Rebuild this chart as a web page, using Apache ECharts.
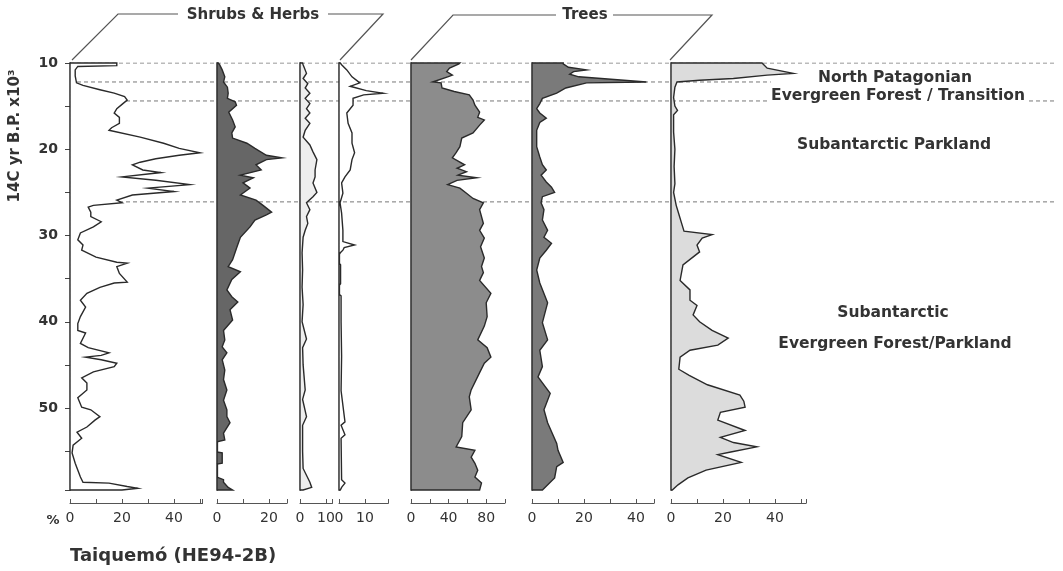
<!DOCTYPE html>
<html><head><meta charset="utf-8">
<script src="https://cdn.jsdelivr.net/npm/echarts@6/dist/echarts.min.js"></script>
<style>html,body{margin:0;padding:0;background:#fff}#c{width:1063px;height:571px}</style>
</head><body><div id="c"></div>
<script>
// ---- data: [age (14C yr B.P. x10^3), percent] ----
const ageMin = 10, ageMax = 59.5;
const yTickLabels = [10, 20, 30, 40, 50];
const zoneBounds = [10, 12.2, 14.4, 26.1];
const groupNames = ['Shrubs & Herbs', 'Trees'];
const zoneNames = ['North Patagonian', 'Evergreen Forest / Transition', 'Subantarctic Parkland', 'Subantarctic', 'Evergreen Forest/Parkland'];
const siteName = 'Taiquemó (HE94-2B)';
const yTitle = '14C yr B.P. x10³';

const shrub1 = [[10,18],[10.3,18],[10.4,3],[10.8,2],[11.5,2],[12.3,2.5],[12.6,5],[13.1,11.5],[13.5,17],[13.9,21],[14.3,22],[14.8,20],[15.3,18],[15.8,17],[16.3,19],[17,19],[17.5,16],[17.8,15],[18.6,27],[19.3,36],[19.9,42],[20.4,50],[20.7,42],[21.1,33],[21.5,27],[21.8,24],[22.4,28],[22.7,35],[23.2,20],[23.6,33],[24.1,46],[24.5,30],[24.9,40],[25.3,24],[25.9,18],[26.2,20],[26.5,9],[26.7,7],[27.3,8],[27.8,8],[28.4,12],[29,9],[29.7,4],[30.5,3],[31.1,5],[31.7,4.5],[32.5,10],[33.1,18],[33.2,22],[33.6,18],[34.4,19],[35.4,22],[35.5,17],[36,11.5],[36.7,6.5],[37.5,4],[38.3,6],[39.4,4],[40.2,3],[41,3],[41.3,6],[42.5,4],[43,7],[43.6,15],[43.9,12],[44.1,6],[44.4,12],[44.8,18],[45.2,17],[45.8,9],[46.5,4.5],[47.1,6.5],[47.9,6.5],[48.8,3],[49.9,4.5],[50.2,8],[51,11.5],[51.4,9.6],[52.2,6.5],[52.8,2.7],[53.5,4.5],[54.3,1.2],[55.2,0.8],[56.4,2],[58,4],[58.6,5],[58.7,15],[59.1,22],[59.3,26],[59.5,20]];
const shrub2 = [[10,0.5],[10.2,1],[10.8,2],[11.6,3],[12.2,2.5],[12.8,4],[13.5,4.3],[14.1,4],[14.5,7],[14.9,7.5],[15.7,4.5],[16.6,6],[17.4,7],[18.1,5.7],[18.7,6],[19.3,11.5],[19.9,14.6],[20.7,19],[21,25],[21.2,19],[21.8,15],[22.4,17],[23,9],[23.3,14],[23.9,10],[24.5,12.7],[25.3,9],[25.9,15],[26.5,17.7],[27.3,21],[27.6,19],[28.2,14.6],[29,12.7],[30.2,9],[31.3,7.7],[32.8,6],[33.6,4.3],[34.2,9],[35.1,5.7],[36.3,3.8],[37.1,5.7],[37.7,8],[38.6,5],[39.8,6],[41,2.5],[42.1,3],[42.9,2],[43.6,3.8],[44.4,2],[45.6,3],[46.7,2.5],[47.9,3.8],[49.1,2.5],[50.2,3.8],[51,3.8],[51.7,5],[52.9,2.5],[53.7,3],[53.9,0],[55.1,0],[55.2,2],[56.4,2],[56.5,0],[58,0],[58.3,2.5],[58.6,2.5],[59.2,4.3],[59.5,6]];
const shrub3 = [[10,1],[10.2,1.2],[11.2,2.5],[11.8,1.2],[12.4,3],[12.9,2],[13.5,3.8],[14.1,2],[14.7,3.8],[15.3,2.5],[15.8,3.8],[16.4,2],[17,3.8],[17.8,2],[18.6,1.2],[19.5,3.8],[20.3,5],[21.2,6.5],[22.4,5.8],[23.2,5.8],[23.9,5],[25,6.5],[25.5,5],[26.2,2.5],[27,3.8],[27.8,2.5],[28.6,3],[29.4,2],[30.2,1.2],[32,0.8],[34,1],[36,0.8],[38,1.2],[40,0.8],[42,2.5],[43,1],[45,1.2],[47.9,2],[49,1],[51,2.5],[52,1],[55,1],[57,1.2],[58.6,3.8],[59.2,4.5],[59.5,1.2]];
const shrub4 = [[10,0.5],[10.2,1],[10.8,3],[11.6,5],[12.3,8],[12.7,4.3],[13.2,10.5],[13.5,17],[13.7,9.5],[14.1,5.4],[14.9,5.4],[15.8,3],[17,3.5],[18.1,5],[19.3,5],[20.4,6],[21.2,5],[22.4,4.3],[23.2,2.3],[23.9,1],[25.1,1.5],[26.2,0.4],[27.4,1],[29.4,1.5],[30.7,1.5],[31.1,6],[31.4,2],[31.7,1.5],[32,0.5],[32.2,0],[33.2,0],[33.4,0.6],[35.6,0.6],[35.8,0],[36.8,0],[37,0.8],[40,0.8],[44,1],[48,0.8],[51.6,2.3],[52,0.8],[53.1,2.3],[53.5,0.8],[58.3,1],[58.7,2.3],[59.2,1],[59.5,0.5]];
const tree1 = [[10,52],[10.1,51],[10.6,41],[11,38],[11.4,44],[11.6,39],[12.2,23],[12.3,32],[12.9,33],[13.3,46],[13.7,62],[14.3,66],[14.9,68],[15.7,73],[16.3,71],[16.6,78],[17.2,73],[18.1,66],[18.7,54],[19.7,52],[20.4,48],[21,44],[21.8,57],[22.2,49],[22.6,59],[23,50],[23.3,70],[23.6,49],[24.1,39],[24.5,52],[25.1,59],[25.7,66],[26.2,77],[27,73],[28.6,77],[29.4,73],[30.3,78],[31.3,74],[32.6,78],[33.6,75],[34.3,77],[35.2,73],[36.7,85],[37.8,80],[39.4,81],[40.5,78],[42.1,71],[43,81],[44.1,85],[44.8,78],[45.9,73],[47.9,64],[48.7,62],[50.2,64],[51.7,55],[53.3,54],[54.5,48],[54.9,68],[55.7,64],[56.4,68],[57.2,71],[58,68],[58.7,75],[59.5,73]];
const tree2 = [[10,12],[10.1,12],[10.5,14],[10.8,21],[11,16],[11.3,14.5],[11.6,18],[12.2,44],[12.3,21],[12.9,13],[13.5,9.5],[14.1,4],[14.7,3],[15.3,1.8],[15.8,3],[16.4,5.5],[16.9,3],[17.8,1.8],[19.7,1.8],[20.9,3],[21.8,4],[22.4,5.5],[23,3.5],[23.8,5.5],[24.4,7.5],[25,8.7],[25.5,4],[26.2,3.5],[27,4.6],[28.2,4],[29.4,6],[30.2,4.6],[30.9,7.5],[31.7,5.5],[32.6,3],[34,1.8],[35.5,3],[37.8,6],[40.1,4],[42.1,6],[43.3,3],[45.2,4],[46.4,2.3],[48.3,7],[50.2,4.6],[51.7,6],[54.1,9.5],[54.9,10],[56.3,12],[56.8,9.5],[58.1,8.7],[59.5,4]];
const tree3 = [[10,35],[10.6,37],[11.2,47],[11.4,37],[11.8,24],[12,11],[12.2,2.3],[12.8,1.5],[14,1],[15,1.5],[15.5,2.5],[16,1],[18,1],[20,1.5],[22,1.2],[24,1.5],[25,1],[26.5,2],[27.5,3],[28.5,4],[29.5,5],[29.9,15.8],[30.3,12],[31.1,10],[31.9,11],[33.4,4.6],[35.2,3.5],[36.3,7.3],[37.5,7.3],[38.1,10],[39.2,8.5],[40,11],[41,15.8],[41.9,22],[42.7,18],[43.3,7.3],[44.1,3.5],[45.5,3],[46.2,7],[47.3,14],[48.5,26.5],[49.2,28],[49.9,28.5],[50.5,19],[51.4,18],[52.6,28.5],[53.4,19],[54,24],[54.5,33],[55.1,23],[55.4,18],[56.3,27],[57.2,13.5],[58.1,6.5],[58.9,2.7],[59.5,0.5]];

const xLabels1 = [0,20,40], xLabels2 = [0,20], xLabels3 = [0,10], xLabels4 = [0,10], xLabels5 = [0,40,80], xLabels6 = [0,20,40], xLabels7 = [0,20,40];

// ---- layout / style (not data) ----
const TOP = 63, H = 427;
const panels = [
  {d: shrub1, left: 70,  max: 51,  iv: 10, px: 2.6,  labels: xLabels1, fill: '#ffffff'},
  {d: shrub2, left: 217, max: 27,  iv: 10, px: 2.6,  labels: xLabels2, fill: '#666666'},
  {d: shrub3, left: 300, max: 12.5,iv: 10, px: 2.6,  labels: xLabels3, fill: '#eeeeee'},
  {d: shrub4, left: 339, max: 19,  iv: 10, px: 2.6,  labels: xLabels4, fill: '#ffffff'},
  {d: tree1,  left: 411, max: 100, iv: 20, px: 0.94, labels: xLabels5, fill: '#8c8c8c'},
  {d: tree2,  left: 532, max: 47,  iv: 10, px: 2.6,  labels: xLabels6, fill: '#7a7a7a'},
  {d: tree3,  left: 671, max: 52,  iv: 10, px: 2.6,  labels: xLabels7, fill: '#dcdcdc'}
];
const FONT = 'DejaVu Sans';
const grids = [], xAxes = [], yAxes = [], series = [];
panels.forEach((p, i) => {
  grids.push({left: p.left, top: TOP, width: p.max * p.px, height: H});
  xAxes.push({gridIndex: i, type: 'value', min: 0, max: p.max, interval: p.iv, position: 'bottom', offset: 13,
    axisLine: {show: true, lineStyle: {color: '#555', width: 1}},
    axisTick: {show: true, inside: true, length: 4, lineStyle: {color: '#555'}},
    axisLabel: {fontSize: 14, fontFamily: FONT, color: '#333', margin: 8,
      formatter: v => p.labels.indexOf(v) >= 0 ? String(v) : ''},
    splitLine: {show: false}});
  yAxes.push({gridIndex: i, type: 'value', inverse: true, min: ageMin, max: ageMax, interval: 5,
    axisLine: {show: true, lineStyle: {color: '#333', width: 1.3}},
    axisTick: {show: i === 0, length: 5, lineStyle: {color: '#444'}},
    axisLabel: {show: i === 0, fontSize: 14, fontFamily: FONT, fontWeight: 'bold', color: '#333', margin: 12,
      formatter: v => yTickLabels.indexOf(v) >= 0 ? String(v) : ''},
    splitLine: {show: false}});
  const pts = p.d.map(a => [a[1], a[0]]);
  series.push({type: 'custom', coordinateSystem: 'cartesian2d', xAxisIndex: i, yAxisIndex: i, z: 3, silent: true,
    data: pts,
    renderItem: function (params, api) {
      if (params.dataIndex !== 0) return null;
      const poly = [api.coord([0, pts[0][1]])];
      pts.forEach(q => poly.push(api.coord(q)));
      poly.push(api.coord([0, pts[pts.length - 1][1]]));
      return {type: 'polygon', shape: {points: poly}, style: {fill: p.fill, stroke: '#2a2a2a', lineWidth: 1.4}};
    }});
});
// background grid for zone boundaries
const bg = panels.length;
grids.push({left: 70, top: TOP, width: 987, height: H});
xAxes.push({gridIndex: bg, type: 'value', min: 0, max: 1, show: false});
yAxes.push({gridIndex: bg, type: 'value', inverse: true, min: ageMin, max: ageMax, show: false});
const boundEnd = [1, 0.71, 1, 1];
zoneBounds.forEach((b, k) => {
  series.push({type: 'line', xAxisIndex: bg, yAxisIndex: bg, z: 1, silent: true, symbol: 'none',
    data: [[0, b], [boundEnd[k], b]],
    lineStyle: {color: '#777', width: 1, type: [4, 3]}});
});

const txt = (t, x, y, size, extra) => Object.assign({type: 'text', x: x, y: y, z: 100,
  style: Object.assign({text: t, fontFamily: FONT, fontSize: size, fontWeight: 'bold', fill: '#333',
    align: 'center', verticalAlign: 'middle'}, extra && extra.style || {})}, extra && extra.el || {});
const line = pts => ({type: 'polyline', z: 100, shape: {points: pts}, style: {stroke: '#555', lineWidth: 1.2, fill: null}});

const graphics = [
  line([[72, 60], [118, 14], [178, 14]]),
  line([[328, 14], [383, 14], [340, 60]]),
  txt(groupNames[0], 253, 15, 15),
  line([[411, 60], [453, 15], [556, 15]]),
  line([[613, 15], [712, 15], [670, 60]]),
  txt(groupNames[1], 585, 15, 15),
  txt(zoneNames[0], 895, 78, 15.5),
  txt(zoneNames[1], 898, 96, 15.5, {style: {backgroundColor: '#fff', padding: [1, 2]}}),
  txt(zoneNames[2], 894, 145, 15.5),
  txt(zoneNames[3], 893, 313, 15.5),
  txt(zoneNames[4], 895, 344, 15.5),
  txt('%', 53, 521, 13),
  txt(siteName, 70, 556, 18, {style: {align: 'left'}}),
  txt(yTitle, 15, 136, 15, {el: {rotation: Math.PI / 2}})
];

const chart = echarts.init(document.getElementById('c'), null, {renderer: 'canvas'});
chart.setOption({animation: false, backgroundColor: '#fff', grid: grids, xAxis: xAxes, yAxis: yAxes, series: series, graphic: graphics});
</script></body></html>
